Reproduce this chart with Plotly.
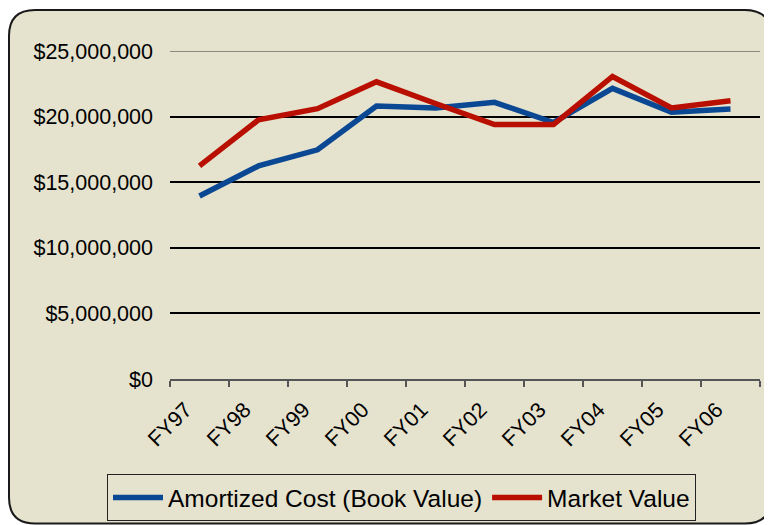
import plotly.graph_objects as go

categories = ["FY97", "FY98", "FY99", "FY00", "FY01", "FY02", "FY03", "FY04", "FY05", "FY06"]
amortized_cost = [13950000, 16240000, 17470000, 20800000, 20650000, 21090000, 19550000, 22150000, 20330000, 20580000]
market_value = [16240000, 19750000, 20600000, 22650000, 21000000, 19390000, 19390000, 23060000, 20660000, 21210000]
y_ticks = [0, 5000000, 10000000, 15000000, 20000000, 25000000]
y_tick_labels = ["$0", "$5,000,000", "$10,000,000", "$15,000,000", "$20,000,000", "$25,000,000"]

OFF = 8  # page body margin
W, H = 772 - OFF, 525 - OFF
# plot area in screen pixels: x 170..760, y 51..379
ML, MT = 170 - OFF, 51 - OFF
MR = W - (760 - OFF)
MB = H - (379 - OFF)
PW, PH = W - ML - MR, H - MT - MB

BG = "#E5E2CE"
BLUE = "#0A4893"
RED = "#B80F00"
FONT = "Liberation Sans, Arial, sans-serif"


def px(x):
    return (x - OFF - ML) / PW


def py(y):
    return (H - MB - (y - OFF)) / PH


def rounded_rect(x0, y0, x1, y1, r):
    rx, ry = r / PW, r / PH
    X0, X1 = px(x0), px(x1)
    Y0, Y1 = py(y0), py(y1)
    return (
        f"M {X0 + rx},{Y0} L {X1 - rx},{Y0} Q {X1},{Y0} {X1},{Y0 - ry} "
        f"L {X1},{Y1 + ry} Q {X1},{Y1} {X1 - rx},{Y1} "
        f"L {X0 + rx},{Y1} Q {X0},{Y1} {X0},{Y1 + ry} "
        f"L {X0},{Y0 - ry} Q {X0},{Y0} {X0 + rx},{Y0} Z"
    )


fig = go.Figure()
fig.add_trace(go.Scatter(
    x=categories, y=amortized_cost, mode="lines", name="Amortized Cost (Book Value)",
    line=dict(color=BLUE, width=5.5),
))
fig.add_trace(go.Scatter(
    x=categories, y=market_value, mode="lines", name="Market Value",
    line=dict(color=RED, width=5.5),
))

fig.add_shape(
    type="path", xref="paper", yref="paper", layer="below",
    path=rounded_rect(9, 10, 771, 523.5, 26),
    fillcolor=BG, line=dict(color="#1a1a1a", width=2),
)
fig.add_shape(
    type="line", xref="paper", yref="y", x0=0, x1=1, y0=25000000, y1=25000000,
    line=dict(color="#8a8a80", width=2), layer="above",
)

fig.update_layout(
    width=W, height=H,
    margin=dict(l=ML, r=MR, t=MT, b=MB, autoexpand=False),
    paper_bgcolor="white",
    plot_bgcolor="rgba(0,0,0,0)",
    font=dict(family=FONT, size=21.5, color="black"),
    showlegend=True,
    legend=dict(
        orientation="h", x=px(107), y=py(474), xanchor="left", yanchor="top",
        bgcolor=BG, bordercolor="#222", borderwidth=1,
        font=dict(size=24.5, family=FONT, color="black"),
        tracegroupgap=0, itemwidth=50,
    ),
    xaxis=dict(
        type="category", range=[-0.5, 9.5],
        showgrid=False, showline=True, linecolor="#555", linewidth=1.5,
        ticks="outside", tickson="boundaries", ticklen=6, tickwidth=1.5, tickcolor="#555",
        tickangle=-45, tickfont=dict(size=21.5, family=FONT, color="black"),
        ticklabelshift=-14, ticklabelstandoff=8,
        zeroline=False,
    ),
    yaxis=dict(
        range=[0, 25000000], tickvals=y_ticks, ticktext=y_tick_labels,
        showgrid=True, gridcolor="black", gridwidth=2,
        zeroline=False, showline=False, ticks="",
        ticklabelstandoff=16,
        tickfont=dict(size=21.5, family=FONT, color="black"),
    ),
)

fig.write_html("out.html")
